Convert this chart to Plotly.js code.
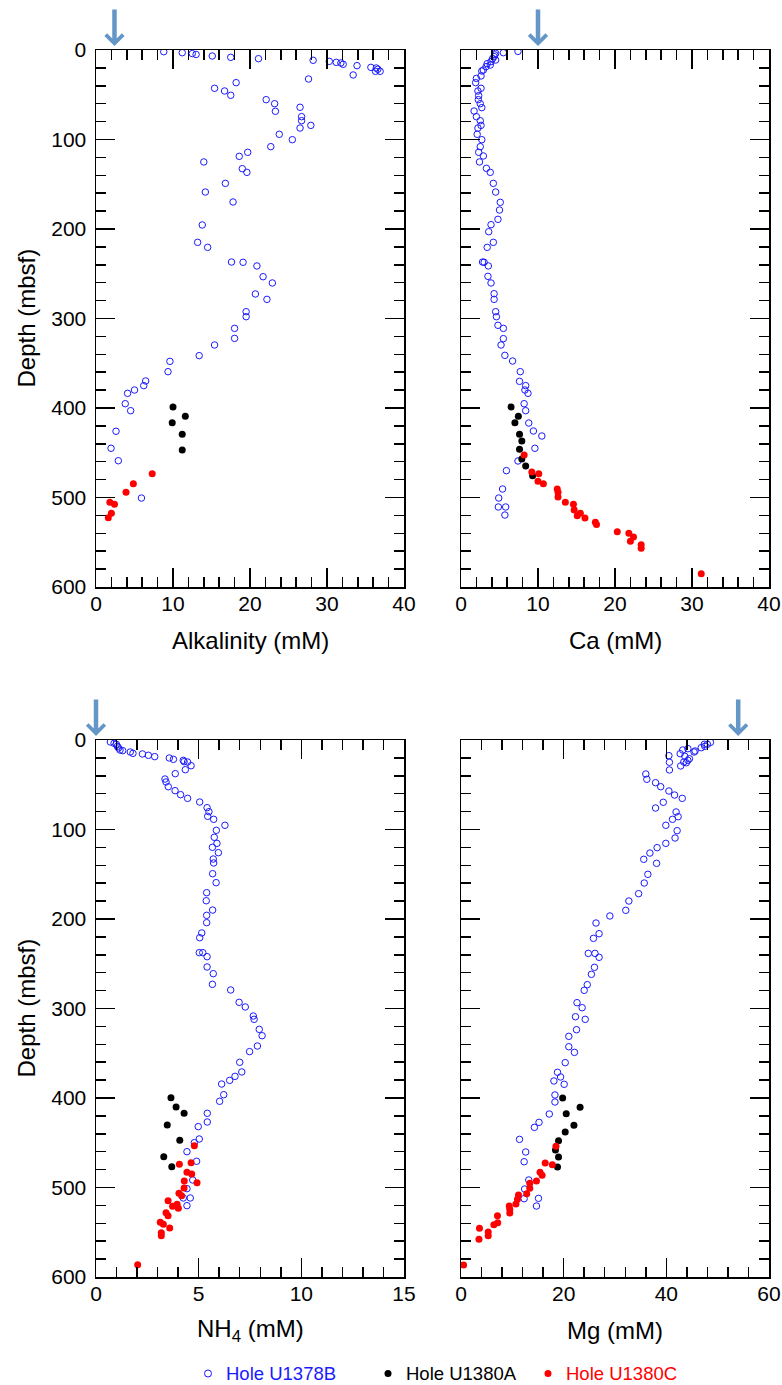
<!DOCTYPE html>
<html>
<head>
<meta charset="utf-8">
<script src="https://cdn.plot.ly/plotly-3.0.1.min.js"></script>
<style>html,body{margin:0;padding:0;background:#fff;}#chart{width:782px;height:1385px;}</style>
</head>
<body>
<div id="chart"></div>
<script>
// ---------------- DATA ----------------
const holeNames = ["Hole U1378B", "Hole U1380A", "Hole U1380C"];
const seawater = { alk: 2.4, ca: 10.0, nh4: 0.0, mg: 54.0 };

// Alkalinity (mM)
const alkB_depth = [1.9,3,4,5,6.7,8.2,9.7,11.5,12.7,13.8,14.5,16,17.5,19.4,20.1,21.5,23.8,23.8,27.9,32.4,36.5,42.8,45.8,50.6,55.5,60,64,68.5,74.5,79,84.2,87.2,94.2,100.2,108,114.3,118.8,125.1,132.6,136.7,149,158.7,169.8,195.5,214.9,220.5,236.9,237.2,241.3,253.3,260.3,272.6,278.6,292.4,298,311,322.2,329.6,341.5,347.9,359.4,369.8,375,379.9,383.6,395.2,403,426,445,458.9,500.6];
const alkB_value = [8.8,11.2,12.5,13.0,15.1,17.5,21.1,28.2,30.3,31.2,31.8,32.1,33.9,35.7,36.4,36.6,36.3,36.9,33.4,27.6,18.2,15.4,16.7,17.5,22.1,23.2,26.5,23.3,26.7,26.7,27.9,26.5,23.8,25.5,22.7,19.7,18.6,14.0,19.0,19.6,16.8,14.2,17.8,13.8,13.2,14.5,17.6,19.1,20.9,21.7,22.9,20.7,22.2,19.5,19.5,18.0,18.0,15.4,13.4,9.6,9.35,6.45,6.2,5.0,4.1,3.8,4.5,2.6,1.95,2.9,5.9];
const alkA_depth = [398.9,409.3,416.4,429.4,446.9];
const alkA_value = [10.0,11.6,9.9,11.2,11.2];
const alkC_depth = [473.4,484.5,494.2,505.4,507.6,517.7,522.5];
const alkC_value = [7.3,4.85,3.9,1.8,2.4,2.0,1.6];

// Ca (mM)
const caB_depth = [1.5,3,3.7,5.5,7.4,9.7,11.2,13,15.3,16.8,18.6,22.3,23.5,29,31.7,36.5,42.8,45.8,51,55.5,60,64.4,68.2,74.5,79,84.2,87.2,94.2,100.2,108,114.3,118.4,125.1,132.2,136.7,149,158.7,170.2,178.8,189.2,195.2,203,214.9,220.5,236.9,237.2,241.3,252.9,260.3,272.3,278.6,292.4,298,307.6,311,322.5,329.6,341.2,347.5,359.4,370.2,375,379.9,383.6,395.2,403,416.8,425.7,431.3,445,459.2,470,490.5,500.6,510.6,510.6,519.6];
const caB_value = [7.4,5.5,4.5,4.4,4.3,4.1,4.5,3.9,3.4,3.8,3.25,2.9,2.7,2.6,2.0,1.9,2.6,2.2,2.3,2.25,2.5,2.7,1.7,2.0,2.5,2.6,2.2,2.1,2.7,2.5,2.3,2.9,2.4,3.3,3.8,4.2,4.5,5.1,5.0,4.8,3.9,3.6,4.2,3.4,2.8,3.0,3.55,3.5,3.9,4.3,4.3,4.5,4.6,4.8,5.5,5.5,5.2,5.7,6.7,7.7,7.6,8.4,8.3,8.7,8.2,8.4,8.8,9.4,10.5,9.6,7.4,5.9,5.4,4.9,4.85,5.8,5.7];
const caA_depth = [398.9,409.3,416.4,429.4,436.9,446.2,457,464.8,475.6];
const caA_value = [6.5,7.45,7.0,7.6,7.9,7.6,7.9,8.4,9.3];
const caC_depth = [452.5,471.5,473.4,481.9,484.5,490.5,494,499.4,505.4,507.6,514,517.7,520.3,522.9,527.7,530.3,538.2,540,544.1,549,552.7,556.8,585.1];
const caC_value = [8.2,9.2,10.1,10.0,10.7,12.5,12.6,12.6,13.55,14.6,14.7,15.5,15.1,16.1,17.45,17.6,20.3,21.8,22.4,22.0,23.4,23.4,31.2];

// NH4 (mM)
const nh4B_depth = [2.2,3.7,4.8,7.1,8.9,11.2,11.9,13.4,14.9,15.6,17.1,18.6,20.1,21.6,22.7,24.2,24.6,28.7,33.2,37.6,43.6,46.9,52.2,56.6,61.1,65.2,69.3,75.6,80.1,85.3,88.6,95.3,100.9,108.7,115.5,119.9,125.9,133,137.4,149.4,159.4,170.6,179.6,190,195.9,204.1,215.6,220.9,237.6,237.6,242.1,253.6,261.1,273,279.3,293.1,298.3,308.4,312.1,323.3,330.4,341.9,348.2,360.1,370.9,375.8,380.3,384.4,396.3,403.7,417.1,426.8,432,445.8,449.9,460,470.7,491.6,501.3,511.7,511.7,520.3];
const nh4B_value = [0.7,0.88,0.99,1.04,1.1,1.17,1.3,1.67,1.8,2.26,2.55,2.86,3.57,3.77,4.25,4.29,4.46,4.63,4.35,3.86,3.36,3.41,3.52,3.85,4.12,4.46,5.05,5.41,5.5,5.44,5.73,6.28,5.86,5.76,5.89,5.67,5.96,5.71,5.73,5.68,5.85,5.39,5.37,5.68,5.39,5.39,5.15,5.05,5.03,5.2,5.41,5.41,5.71,5.67,6.56,6.97,7.27,7.66,7.7,7.95,8.09,7.86,7.48,7.0,7.1,6.77,6.51,6.12,6.22,6.02,5.42,5.42,4.98,5.03,4.79,4.43,4.9,4.71,4.43,4.25,4.59,4.43];
const nh4A_depth = [399.6,410,417.1,430.2,447.3,465.6,476.8];
const nh4A_value = [3.65,3.9,4.29,3.47,4.08,3.3,3.69];
const nh4C_depth = [453.3,472.3,474.1,483.1,485,492.7,494.6,500.6,506.5,509.2,514.7,521,518.8,523.3,528.2,531.5,538.9,541.2,545.3,550.5,553.8,586.3];
const nh4C_value = [4.79,4.63,4.06,4.43,4.66,4.3,4.92,4.29,4.04,4.17,3.51,3.73,3.95,4.01,3.41,3.51,3.13,3.28,3.59,3.18,3.18,2.03];

// Mg (mM)
const mgB_depth = [2.6,4.8,4.8,7.1,8.6,9.7,11.2,12.3,13.4,15.3,17.5,18.2,20.9,22.7,24.6,24.9,25.4,29,33.5,38,43.9,47.7,52.2,57,61.5,65.2,69.6,76,80.4,85.7,88.6,95.3,101.3,109.5,115.5,120.3,126.3,133.3,137.8,150.1,159.8,171.7,179.9,190.3,196.6,204.5,216.4,221.6,238.4,238.4,242.8,254,261.8,273.4,279.7,293.5,299.1,309.2,312.1,323.7,331.1,342.7,349,360.5,371.3,376.5,381,384.7,396.6,404.5,417.9,427.2,432.8,446.2,460.3,471.2,491.6,501.7,512.5,512.1,520.7];
const mgB_value = [48.6,48.0,47.4,47.5,46.8,44.2,43.2,45.6,45.4,42.7,40.5,43.6,44.5,44.2,43.4,40.6,43.9,42.8,40.6,36.0,36.2,37.9,38.9,40.5,41.6,43.1,39.4,37.9,41.9,42.3,41.2,39.9,42.1,41.7,39.9,38.2,36.8,35.6,38.1,36.4,35.7,34.6,32.7,32.1,29.0,26.3,26.9,25.8,24.8,26.1,26.9,26.0,25.4,24.6,24.0,22.6,23.6,22.3,24.2,22.5,21.0,21.0,22.1,20.3,18.8,19.4,18.1,20.1,18.3,18.3,17.2,15.2,14.3,11.4,12.6,12.3,13.2,12.4,12.3,15.1,14.7];
const mgA_depth = [400,410.4,417.5,430.5,438,447.7,458.1,465.9,477.1];
const mgA_value = [19.8,23.2,20.5,22.0,20.3,19.0,18.4,19.0,18.8];
const mgC_depth = [454,472.6,474.5,483,486.4,492.7,495.3,500.9,506.9,508.4,513.2,518.4,520.7,524.4,528.5,531.5,539.3,541.6,545.6,549.7,553.8,557.9,586.6];
const mgC_value = [18.5,16.4,17.8,15.4,15.8,14.7,13.4,13.4,12.8,11.2,11.0,10.7,9.4,9.5,9.5,7.1,7.15,6.4,3.6,5.3,5.3,3.5,0.5];

// Axis labels
const xTitles = ["Alkalinity (mM)", "Ca (mM)", "NH<sub>4</sub> (mM)", "Mg (mM)"];
const yTitle = "Depth (mbsf)";
const xRanges = [[0,40],[0,40],[0,15],[0,60]];
const xMajor = [10,10,5,20];
const xMinor = [2,2,1,4];

// ---------------- LAYOUT HELPERS ----------------
const W = 782, H = 1385;
const px = v => v / W;
const py = v => 1 - v / H;
const FONT = "Liberation Sans, Arial, Helvetica, sans-serif";
const colB = "#1a1aff", colA = "#000000", colC = "#ff0000";
const arrowCol = "#6496c8";

const panels = [
  { xa: "x",  ya: "y",  x0: 96,  x1: 404, y0: 50,  y1: 587 },
  { xa: "x2", ya: "y2", x0: 461, x1: 769, y0: 50,  y1: 587 },
  { xa: "x3", ya: "y3", x0: 96,  x1: 404, y0: 740, y1: 1277 },
  { xa: "x4", ya: "y4", x0: 461, x1: 769, y0: 740, y1: 1277 }
];

const dataSets = [
  [[alkB_value, alkB_depth],[alkA_value, alkA_depth],[alkC_value, alkC_depth]],
  [[caB_value, caB_depth],[caA_value, caA_depth],[caC_value, caC_depth]],
  [[nh4B_value, nh4B_depth],[nh4A_value, nh4A_depth],[nh4C_value, nh4C_depth]],
  [[mgB_value, mgB_depth],[mgA_value, mgA_depth],[mgC_value, mgC_depth]]
];
const swVals = [seawater.alk, seawater.ca, seawater.nh4, seawater.mg];
const holeCols = [colB, colA, colC];

const traces = [];
dataSets.forEach((ds, pi) => {
  ds.forEach((pair, hi) => {
    const isB = hi === 0;
    traces.push({
      type: "scatter", mode: "markers",
      x: pair[0], y: pair[1],
      xaxis: panels[pi].xa, yaxis: panels[pi].ya,
      name: holeNames[hi],
      showlegend: false,
      marker: isB
        ? { symbol: "circle-open", size: 6.5, color: colB, line: { width: 1, color: colB } }
        : { symbol: "circle", size: 7, color: holeCols[hi], line: { width: 0 } },
      hoverinfo: "skip"
    });
  });
});

const layout = {
  width: W, height: H,
  margin: { l: 0, r: 0, t: 0, b: 0 },
  paper_bgcolor: "#fff", plot_bgcolor: "#fff",
  font: { family: FONT, size: 21, color: "#000" },
  showlegend: false,
  annotations: [], shapes: []
};

panels.forEach((p, i) => {
  const sfx = i === 0 ? "" : String(i + 1);
  layout["xaxis" + sfx] = {
    domain: [px(p.x0), px(p.x1)],
    anchor: "y" + sfx,
    range: xRanges[i], autorange: false,
    showgrid: false, zeroline: false,
    showline: true, linecolor: "#000", linewidth: 1.5, mirror: "ticks",
    ticks: "inside", ticklen: 19, tickwidth: 1.5, tickcolor: "#000",
    dtick: xMajor[i], tick0: 0,
    minor: { dtick: xMinor[i], tick0: 0, ticks: "inside", ticklen: 10, tickwidth: 1.5, tickcolor: "#000", showgrid: false },
    tickfont: { family: FONT, size: 21, color: "#000" },
    ticklabelstandoff: -3
  };
  layout["yaxis" + sfx] = {
    domain: [py(p.y1), py(p.y0)],
    anchor: "x" + sfx,
    range: [600, 0], autorange: false,
    showgrid: false, zeroline: false,
    showline: true, linecolor: "#000", linewidth: 1.5, mirror: "ticks",
    ticks: "inside", ticklen: 19, tickwidth: 1.5, tickcolor: "#000",
    dtick: 100, tick0: 0,
    minor: { dtick: 20, tick0: 0, ticks: "inside", ticklen: 10, tickwidth: 1.5, tickcolor: "#000", showgrid: false },
    tickfont: { family: FONT, size: 21, color: "#000" },
    showticklabels: (i % 2 === 0),
    ticklabelstandoff: 4
  };

  // x-axis title
  layout.annotations.push({
    text: xTitles[i], xref: "paper", yref: "paper",
    x: px((p.x0 + p.x1) / 2), y: py(p.y1 + 53),
    xanchor: "center", yanchor: "middle", showarrow: false,
    font: { family: FONT, size: 24, color: "#000" }
  });
  // y-axis title (left panels)
  if (i % 2 === 0) {
    layout.annotations.push({
      text: yTitle, xref: "paper", yref: "paper",
      x: px(26), y: py((p.y0 + p.y1) / 2),
      xanchor: "center", yanchor: "middle", textangle: -90, showarrow: false,
      font: { family: FONT, size: 24, color: "#000" }
    });
  }
  // seawater arrow
  layout.annotations.push({
    text: "", xref: p.xa, yref: "paper",
    x: swVals[i], y: py(p.y0 - 4),
    showarrow: true, ax: 0, ay: -38,
    arrowhead: 4, arrowsize: 0.75, arrowwidth: 4.5, arrowcolor: arrowCol
  });
});

// legend (key symbols + text at the bottom)
const legY = 1373.5;
const legSymX = [208, 388, 548];
const legTextX = [224, 404, 564];
holeNames.forEach((name, k) => {
  const r = 3.5;
  layout.shapes.push({
    type: "circle", xref: "paper", yref: "paper",
    x0: px(legSymX[k] - r), x1: px(legSymX[k] + r),
    y0: py(legY + r), y1: py(legY - r),
    line: { color: holeCols[k], width: k === 0 ? 1 : 0 },
    fillcolor: k === 0 ? "rgba(0,0,0,0)" : holeCols[k]
  });
  layout.annotations.push({
    text: name, xref: "paper", yref: "paper",
    x: px(legTextX[k]), y: py(legY),
    xanchor: "left", yanchor: "middle", showarrow: false,
    font: { family: FONT, size: 18.5, color: holeCols[k] }
  });
});

Plotly.newPlot("chart", traces, layout, { staticPlot: true, displayModeBar: false });
</script>
</body>
</html>
